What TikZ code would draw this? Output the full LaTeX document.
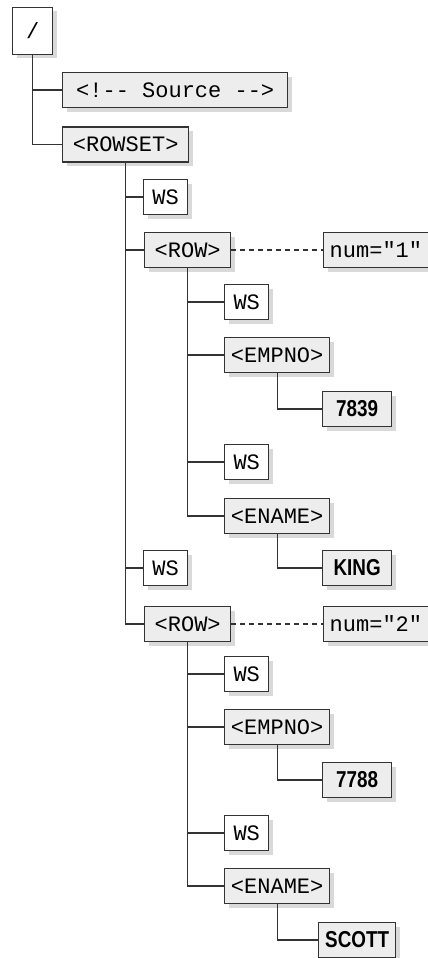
\documentclass[tikz,border=0pt]{standalone}
\usepackage{fontspec}
\setmonofont{Liberation Mono}
\newfontfamily\valfont[FakeStretch=0.82]{Liberation Sans}
\usetikzlibrary{shadows}

\begin{document}
\begin{tikzpicture}[x=1pt, y=-1pt,
  tag/.style={draw=black!80, line width=1.4pt, fill=black!7, anchor=west,
              minimum height=35pt, inner xsep=6pt, inner ysep=0pt,
              font=\fontsize{22}{24}\selectfont\ttfamily,
              drop shadow={shadow xshift=4pt, shadow yshift=-4pt,
                           opacity=0.3, fill=black!50}},
  ws/.style={tag, fill=white, minimum width=44pt},
  elem/.style={tag, minimum width=105pt},
  attr/.style={tag, text width=110pt, align=left},
  val/.style={tag, minimum width=69pt,
              font=\fontsize{23}{24}\selectfont\valfont\bfseries},
  link/.style={draw=black!80, line width=1.4pt},
  attrlink/.style={link, dash pattern=on 5pt off 4pt}]
\path[use as bounding box, clip] (0,0) rectangle (428,958);

% document root and top level
\node[tag, fill=white, minimum width=40pt, minimum height=47pt] (root) at (12,31) {/};
\node[tag, minimum width=225pt] (src) at (62,90) {<!-{}- Source -{}->};
\node[tag, minimum width=126pt] (rowset) at (62,144.5) {<ROWSET>};

% first row
\node[ws] (ws1) at (143,197) {WS};
\node[tag, minimum width=86pt] (row1) at (144,250) {<ROW>};
\node[attr] (attr1) at (323,250) {num="1"};
\node[ws] (ws11) at (224,302) {WS};
\node[elem] (empno1) at (224,355) {<EMPNO>};
\node[val] (val11) at (322,409) {7839};
\node[ws] (ws12) at (224,462) {WS};
\node[elem] (ename1) at (224,516) {<ENAME>};
\node[val] (val12) at (322,568) {KING};

% second row
\node[ws] (ws2) at (143,568) {WS};
\node[tag, minimum width=86pt] (row2) at (144,624) {<ROW>};
\node[attr] (attr2) at (323,624) {num="2"};
\node[ws] (ws21) at (224,674) {WS};
\node[elem] (empno2) at (224,727) {<EMPNO>};
\node[val] (val21) at (322,780) {7788};
\node[ws] (ws22) at (224,833) {WS};
\node[elem] (ename2) at (224,886) {<ENAME>};
\node[val, minimum width=77pt] (val22) at (318,940) {SCOTT};

\foreach \p/\c in {root/src, root/rowset,
    rowset/ws1, rowset/row1, rowset/ws2, rowset/row2,
    row1/ws11, row1/empno1, row1/ws12, row1/ename1,
    empno1/val11, ename1/val12,
    row2/ws21, row2/empno2, row2/ws22, row2/ename2,
    empno2/val21, ename2/val22}
  \draw[link] (\p.south) |- (\c.west);
\draw[attrlink] (row1) -- (attr1);
\draw[attrlink] (row2) -- (attr2);
\end{tikzpicture}
\end{document}
